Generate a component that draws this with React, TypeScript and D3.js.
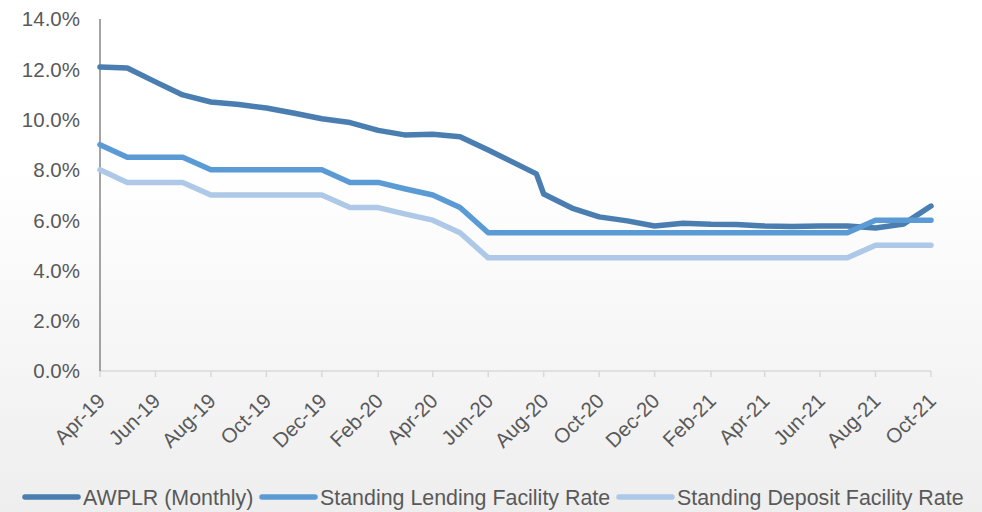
import React, { useEffect, useRef } from "react";
import * as d3 from "d3";

// monthly categories (first of month)
const months = [
	"2019-04", "2019-05", "2019-06", "2019-07", "2019-08", "2019-09", "2019-10", "2019-11", "2019-12",
	"2020-01", "2020-02", "2020-03", "2020-04", "2020-05", "2020-06", "2020-07", "2020-08", "2020-09",
	"2020-10", "2020-11", "2020-12", "2021-01", "2021-02", "2021-03", "2021-04", "2021-05", "2021-06",
	"2021-07", "2021-08", "2021-09", "2021-10",
];

// AWPLR has one reading in late July 2020 instead of the first of the month
const awplrDates = [
	"2019-04-01", "2019-05-01", "2019-06-01", "2019-07-01", "2019-08-01", "2019-09-01", "2019-10-01",
	"2019-11-01", "2019-12-01", "2020-01-01", "2020-02-01", "2020-03-01", "2020-04-01", "2020-05-01",
	"2020-06-01", "2020-07-24", "2020-08-01", "2020-09-01", "2020-10-01", "2020-11-01", "2020-12-01",
	"2021-01-01", "2021-02-01", "2021-03-01", "2021-04-01", "2021-05-01", "2021-06-01", "2021-07-01",
	"2021-08-01", "2021-09-01", "2021-10-01",
];
const awplr = [
	12.09, 12.05, 11.5, 10.98, 10.7, 10.6, 10.46, 10.25, 10.03, 9.88, 9.57, 9.39, 9.42, 9.32, 8.79, 7.84,
	7.04, 6.48, 6.13, 5.97, 5.77, 5.88, 5.84, 5.83, 5.77, 5.75, 5.77, 5.77, 5.69, 5.85, 6.56,
];
const slfr = [
	9.0, 8.5, 8.5, 8.5, 8.0, 8.0, 8.0, 8.0, 8.0, 7.5, 7.5, 7.25, 7.0, 6.5, 5.5, 5.5, 5.5, 5.5, 5.5, 5.5,
	5.5, 5.5, 5.5, 5.5, 5.5, 5.5, 5.5, 5.5, 6.0, 6.0, 6.0,
];
const sdfr = [
	8.0, 7.5, 7.5, 7.5, 7.0, 7.0, 7.0, 7.0, 7.0, 6.5, 6.5, 6.25, 6.0, 5.5, 4.5, 4.5, 4.5, 4.5, 4.5, 4.5,
	4.5, 4.5, 4.5, 4.5, 4.5, 4.5, 4.5, 4.5, 5.0, 5.0, 5.0,
];
const yTicks = [0, 2, 4, 6, 8, 10, 12, 14];
const seriesNames = ["AWPLR (Monthly)", "Standing Lending Facility Rate", "Standing Deposit Facility Rate"];
const seriesColors = ["#4a7eb1", "#5b9bd5", "#aec8e8"];

const W = 982, H = 512;
const left = 100, right = 931, top = 19, bottom = 371;
const FONT = "'Liberation Sans', Arial, sans-serif";
const TXT = "#595959";

const drawChart = (svgEl: SVGSVGElement) => {
	const svg = d3.select(svgEl);
	svg.selectAll("*").remove();

	const parseMonth = d3.timeParse("%Y-%m");
	const parseDay = d3.timeParse("%Y-%m-%d");
	const monthDates = months.map((m) => parseMonth(m) as Date);

	const x = d3.scaleTime().domain([monthDates[0], monthDates[monthDates.length - 1]]).range([left, right]);
	const y = d3.scaleLinear().domain([0, 14]).range([bottom, top]);

	const defs = svg.append("defs");
	const grad = defs.append("linearGradient").attr("id", "bg").attr("x1", 0).attr("y1", 0).attr("x2", 0).attr("y2", 1);
	grad.append("stop").attr("offset", "0.33").attr("stop-color", "#ffffff");
	grad.append("stop").attr("offset", "1").attr("stop-color", "#eeeeee");
	svg.append("rect").attr("width", W).attr("height", H).attr("fill", "url(#bg)");

	// y labels
	svg.append("g")
		.selectAll("text")
		.data(yTicks)
		.enter()
		.append("text")
		.attr("x", 80)
		.attr("y", (d) => y(d))
		.attr("dy", "0.36em")
		.attr("text-anchor", "end")
		.attr("font-family", FONT)
		.attr("font-size", 20.5)
		.attr("fill", TXT)
		.text((d) => d.toFixed(1) + "%");

	// x axis line + ticks
	const tickDates = monthDates.filter((_, i) => i % 2 === 0);
	svg.append("line")
		.attr("x1", left).attr("x2", right)
		.attr("y1", bottom).attr("y2", bottom)
		.attr("stroke", "#d9d9d9").attr("stroke-width", 1.5);
	svg.append("g")
		.selectAll("line")
		.data(tickDates)
		.enter()
		.append("line")
		.attr("x1", (d) => x(d)).attr("x2", (d) => x(d))
		.attr("y1", bottom).attr("y2", bottom + 6)
		.attr("stroke", "#d9d9d9").attr("stroke-width", 1.5);

	const fmt = d3.timeFormat("%b-%y");
	svg.append("g")
		.selectAll("text")
		.data(tickDates)
		.enter()
		.append("text")
		.attr("transform", (d) => `translate(${x(d) + 1},${bottom + 26}) rotate(-45)`)
		.attr("text-anchor", "end")
		.attr("dy", "0.36em")
		.attr("font-family", FONT)
		.attr("font-size", 20.5)
		.attr("fill", TXT)
		.text((d) => fmt(d));

	// y axis line
	svg.append("line")
		.attr("x1", left).attr("x2", left)
		.attr("y1", top).attr("y2", bottom)
		.attr("stroke", "#868686").attr("stroke-width", 1.5);

	const line = d3.line<[Date, number]>()
		.x((d) => x(d[0]))
		.y((d) => y(d[1]));

	const series: [Date, number][][] = [
		awplr.map((v, i) => [parseDay(awplrDates[i]) as Date, v]),
		slfr.map((v, i) => [monthDates[i], v]),
		sdfr.map((v, i) => [monthDates[i], v]),
	];

	svg.append("g")
		.selectAll("path")
		.data(series)
		.enter()
		.append("path")
		.attr("d", (d) => line(d))
		.attr("fill", "none")
		.attr("stroke", (_, i) => seriesColors[i])
		.attr("stroke-width", 5.5)
		.attr("stroke-linejoin", "round")
		.attr("stroke-linecap", "round");

	// legend
	const legendX = [25, 262, 619];
	const lg = svg.append("g")
		.selectAll("g")
		.data(seriesNames)
		.enter()
		.append("g")
		.attr("transform", (_, i) => `translate(${legendX[i]},497)`);
	lg.append("line")
		.attr("x1", 0).attr("x2", 53)
		.attr("stroke", (_, i) => seriesColors[i])
		.attr("stroke-width", 5.5)
		.attr("stroke-linecap", "round");
	lg.append("text")
		.attr("x", 58)
		.attr("dy", "0.36em")
		.attr("font-family", FONT)
		.attr("font-size", 21.4)
		.attr("fill", TXT)
		.text((d) => d);
};

const App = () => {
	const svgRef = useRef<SVGSVGElement>(null);

	useEffect(() => {
		if (svgRef.current) drawChart(svgRef.current);
	}, []);

	return (
		<svg
			ref={svgRef}
			width={W}
			height={H}
			style={{ position: "absolute", left: 0, top: 0, display: "block" }}
		/>
	);
};

export default App;
